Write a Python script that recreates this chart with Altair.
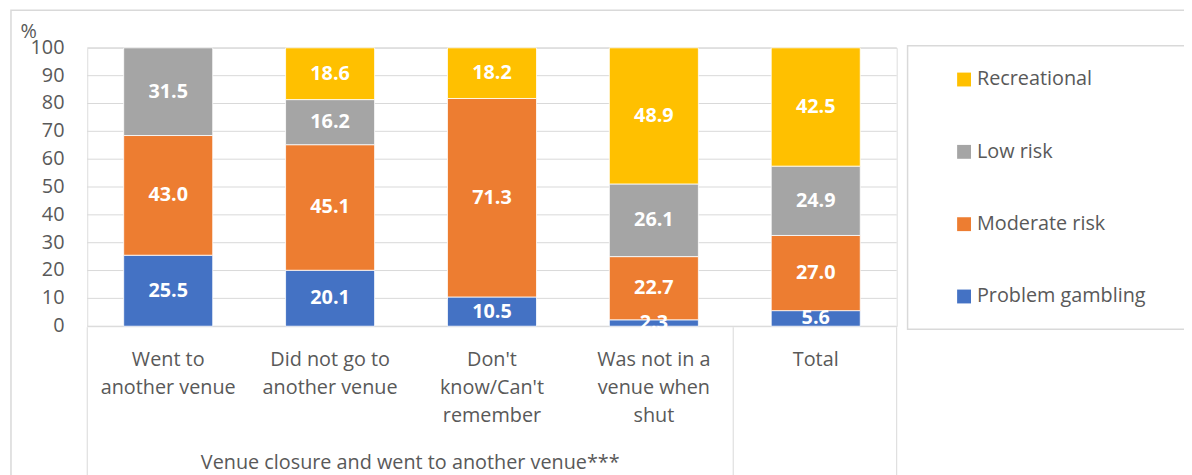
import altair as alt
import pandas as pd

categories = [
    "Went to\nanother venue",
    "Did not go to\nanother venue",
    "Don't\nknow/Can't\nremember",
    "Was not in a\nvenue when\nshut",
    "Total",
]
series_names = ["Problem gambling", "Moderate risk", "Low risk", "Recreational"]
problem_gambling = [25.5, 20.1, 10.5, 2.3, 5.6]
moderate_risk = [43.0, 45.1, 71.3, 22.7, 27.0]
low_risk = [31.5, 16.2, None, 26.1, 24.9]
recreational = [None, 18.6, 18.2, 48.9, 42.5]
colors = {"Recreational": "#FFC000", "Low risk": "#A5A5A5",
          "Moderate risk": "#ED7D31", "Problem gambling": "#4472C4"}
legend_order = ["Recreational", "Low risk", "Moderate risk", "Problem gambling"]
y_ticks = list(range(0, 101, 10))
group_label = "Venue closure and went to another venue***"

rows = []
for s_i, (name, vals) in enumerate(zip(series_names,
                                       [problem_gambling, moderate_risk, low_risk, recreational])):
    for c, v in zip(categories, vals):
        if v is not None:
            rows.append({"cat": c, "series": name, "value": v, "ord": s_i})
df = pd.DataFrame(rows)

FONT = "Open Sans"
FS = 20
GREY = "#595959"
LINE = "#D9D9D9"
W, H = 817, 281

base = alt.Chart(df).transform_stack(
    stack="value", groupby=["cat"], as_=["y0", "y1"],
    sort=[alt.SortField("ord", order="ascending")]
).transform_calculate(mid="(datum.y0 + datum.y1) / 2")

xenc = alt.X("cat:N", sort=categories, axis=None,
             scale=alt.Scale(paddingInner=0.45, paddingOuter=0.225))
yscale = alt.Scale(domain=[0, 100], nice=False)

tick_df = pd.DataFrame({"t": y_ticks})
grid = alt.Chart(tick_df).mark_rule(color=LINE, strokeWidth=1).encode(
    y=alt.Y("t:Q", scale=yscale, axis=None),
    x=alt.value(0), x2=alt.value(W))
tick_labels = alt.Chart(tick_df).mark_text(
    fontSize=FS, font=FONT, color=GREY, align="right", baseline="middle").encode(
    y=alt.Y("t:Q", scale=yscale, axis=None),
    x=alt.value(-23), text="t:Q")

bars = base.mark_bar(stroke="white", strokeWidth=0.8).encode(
    x=xenc,
    y=alt.Y("y0:Q", scale=yscale, axis=None),
    y2="y1:Q",
    color=alt.Color("series:N",
                    scale=alt.Scale(domain=legend_order,
                                    range=[colors[k] for k in legend_order]),
                    legend=alt.Legend(title=None, orient="none", legendX=875, legendY=22,
                                      symbolType="square", symbolSize=196,
                                      symbolStrokeWidth=0, symbolOpacity=1,
                                      labelFontSize=FS, labelColor=GREY, labelFont=FONT,
                                      labelLimit=400, labelOffset=3, rowPadding=53)),
)

labels = base.mark_text(color="white", fontWeight="bold", fontSize=FS, font=FONT,
                        baseline="middle").encode(
    x=xenc,
    y=alt.Y("mid:Q", scale=yscale, axis=None),
    text=alt.Text("value:Q", format=".1f"),
)

cat_df = pd.DataFrame({"cat": categories})
cat_text = alt.Chart(cat_df).mark_text(
    fontSize=FS, font=FONT, color=GREY, lineBreak="\n", lineHeight=28.5,
    baseline="alphabetic", align="center"
).encode(x=xenc, y=alt.value(321), text="cat:N")

one = pd.DataFrame({"a": [0]})
def rule(x1, y1, x2, y2):
    return alt.Chart(one).mark_rule(color=LINE, strokeWidth=1).encode(
        x=alt.value(x1), y=alt.value(y1), x2=alt.value(x2), y2=alt.value(y2))

frame = alt.Chart(one).mark_rect(fill=None, stroke=LINE, strokeWidth=1.5).encode(
    x=alt.value(-77), y=alt.value(-38), x2=alt.value(1200), y2=alt.value(500))
legend_box = alt.Chart(one).mark_rect(fill=None, stroke=LINE, strokeWidth=1.5).encode(
    x=alt.value(828), y=alt.value(-2), x2=alt.value(1200), y2=alt.value(284))

lines = [
    rule(0, 282, 0, 500),
    rule(652, 282, 652, 500),
    rule(W, 282, W, 500),
]

group_text = alt.Chart(one).mark_text(
    fontSize=FS, font=FONT, color=GREY, align="center", baseline="alphabetic"
).encode(x=alt.value(326), y=alt.value(425), text=alt.value(group_label))

pct = alt.Chart(one).mark_text(
    fontSize=FS, font=FONT, color=GREY, align="center", baseline="middle"
).encode(x=alt.value(-59), y=alt.value(-16), text=alt.value("%"))

chart = alt.layer(frame, legend_box, grid, *lines, bars, labels, tick_labels,
                  cat_text, group_text, pct).properties(
    width=W, height=H,
    autosize=alt.AutoSizeParams(type="none"),
    padding={"left": 80, "top": 38, "right": 290, "bottom": 150},
).configure_view(stroke=None).configure(background="white")

chart.save("out.html", embed_options={"renderer": "svg", "actions": False})
